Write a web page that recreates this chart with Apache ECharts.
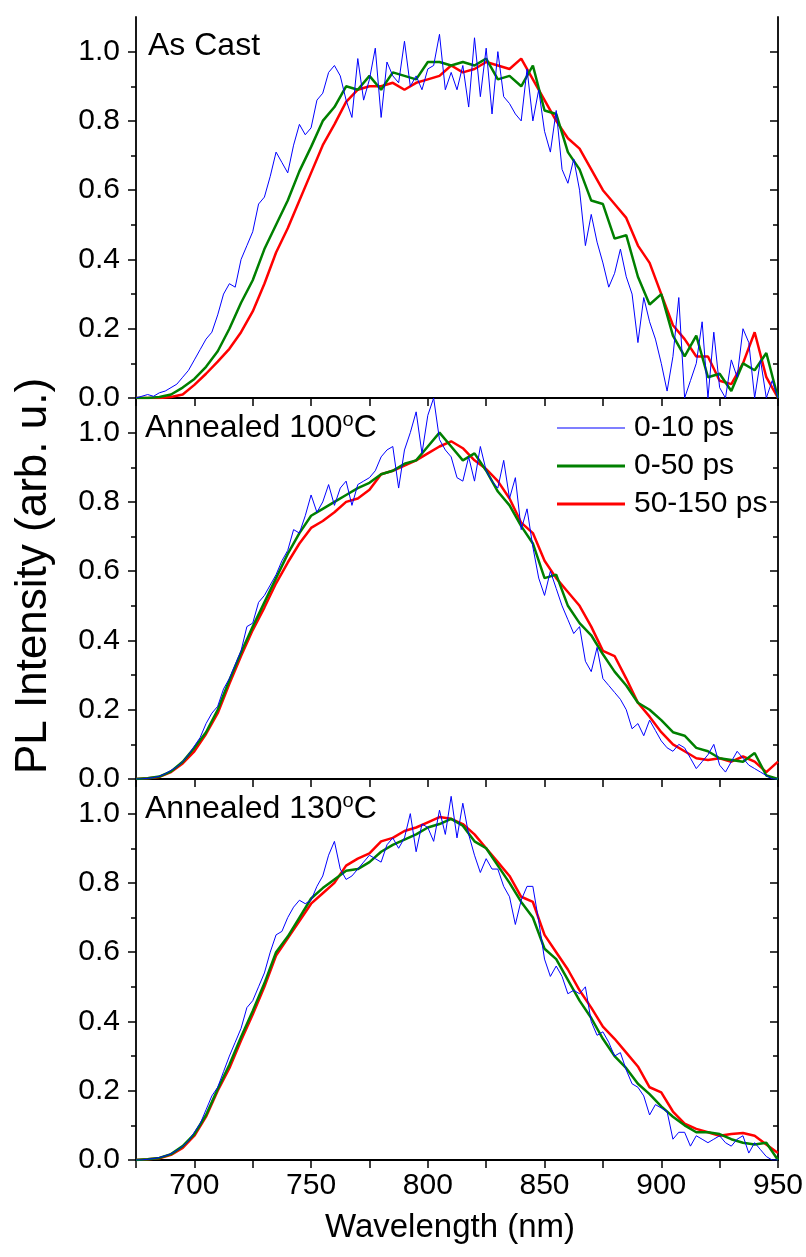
<!DOCTYPE html>
<html>
<head>
<meta charset="UTF-8">
<title>PL spectra</title>
<script src="https://cdn.jsdelivr.net/npm/echarts@6/dist/echarts.min.js"></script>
<style type="text/css">
  *{margin:0;padding:0;}
  body{background:#fff;}
  #main{width:806px;height:1257px;}
</style>
</head>
<body>
<div id="main"></div>
<script type="text/javascript">
// wavelength grids (nm)
var wl5 = [675,680,685,690,695,700,705,710,715,720,725,730,735,740,745,750,755,760,765,770,
  775,780,785,790,795,800,805,810,815,820,825,830,835,840,845,850,855,860,865,870,
  875,880,885,890,895,900,905,910,915,920,925,930,935,940,945,950];
var wl25 = [675,677.5,680,682.5,685,687.5,690,692.5,695,697.5,700,702.5,705,707.5,710,712.5,715,717.5,720,722.5,
  725,727.5,730,732.5,735,737.5,740,742.5,745,747.5,750,752.5,755,757.5,760,762.5,765,767.5,770,772.5,
  775,777.5,780,782.5,785,787.5,790,792.5,795,797.5,800,802.5,805,807.5,810,812.5,815,817.5,820,822.5,
  825,827.5,830,832.5,835,837.5,840,842.5,845,847.5,850,852.5,855,857.5,860,862.5,865,867.5,870,872.5,
  875,877.5,880,882.5,885,887.5,890,892.5,895,897.5,900,902.5,905,907.5,910,912.5,915,917.5,920,922.5,
  925,927.5,930,932.5,935,937.5,940,942.5,945,947.5,950];

var seriesNames = ['0-10 ps', '0-50 ps', '50-150 ps'];
var panelLabels = ['As Cast', 'Annealed 100', 'Annealed 130'];
var yTicks = [0, 0.2, 0.4, 0.6, 0.8, 1.0];
var yMinorTicks = [0.1, 0.3, 0.5, 0.7, 0.9];

// As Cast
var castBlue = [0,0.005,0.01,0.005,0.015,0.02,0.03,0.04,0.06,0.08,0.11,0.14,0.17,0.19,0.24,0.30,0.33,0.32,0.40,0.44,
  0.48,0.56,0.58,0.64,0.71,0.68,0.65,0.73,0.79,0.76,0.78,0.86,0.88,0.94,0.96,0.93,0.86,0.81,0.98,0.86,
  0.92,1.01,0.81,0.97,0.93,0.91,1.03,0.90,0.93,0.89,0.95,0.96,1.05,0.89,0.94,0.89,0.96,0.84,1.04,0.87,
  1.01,0.82,1.0,0.87,0.85,0.82,0.80,0.95,0.80,0.89,0.77,0.71,0.83,0.66,0.62,0.69,0.60,0.44,0.53,0.45,
  0.39,0.32,0.36,0.43,0.35,0.30,0.16,0.29,0.22,0.17,0.10,0.02,0.12,0.29,0,0.05,0.10,0.22,0,0.19,
  0.03,0,0.11,0.06,0.20,0.16,0,0.11,0,0.05,0];
var castGreen = [0,0,0.003,0.01,0.03,0.055,0.09,0.135,0.2,0.275,0.34,0.43,0.5,0.57,0.655,0.725,0.8,0.84,0.9,0.89,
  0.93,0.89,0.94,0.93,0.92,0.97,0.97,0.96,0.97,0.96,0.98,0.92,0.93,0.9,0.96,0.83,0.82,0.71,0.66,0.57,
  0.56,0.46,0.47,0.35,0.27,0.3,0.18,0.12,0.18,0.06,0.07,0.02,0.1,0.08,0.13,0];
var castRed = [0,0,0,0.003,0.01,0.038,0.07,0.105,0.142,0.19,0.25,0.33,0.42,0.49,0.57,0.65,0.73,0.79,0.855,0.89,
  0.9,0.9,0.91,0.89,0.91,0.92,0.93,0.96,0.94,0.95,0.97,0.96,0.95,0.98,0.92,0.86,0.8,0.75,0.72,0.66,
  0.6,0.56,0.52,0.44,0.39,0.3,0.21,0.17,0.12,0.12,0.05,0.04,0.1,0.19,0.06,0];

// Annealed 100 C
var a100Blue = [0,0,0.002,0.004,0.008,0.015,0.025,0.035,0.05,0.07,0.095,0.12,0.16,0.19,0.21,0.26,0.29,0.33,0.37,0.44,
  0.45,0.51,0.53,0.56,0.59,0.63,0.66,0.72,0.71,0.76,0.82,0.77,0.80,0.85,0.79,0.84,0.86,0.79,0.85,0.86,
  0.87,0.89,0.93,0.95,0.96,0.84,0.95,1.0,1.06,0.94,1.05,1.1,0.98,0.95,0.93,0.87,0.86,0.93,0.86,0.96,
  0.89,0.86,0.84,0.92,0.81,0.87,0.72,0.78,0.67,0.58,0.53,0.60,0.55,0.50,0.46,0.42,0.44,0.34,0.31,0.38,
  0.29,0.27,0.25,0.23,0.20,0.145,0.16,0.125,0.17,0.14,0.11,0.09,0.08,0.10,0.09,0.06,0.03,0.05,0.07,0.10,
  0.04,0.02,0.05,0.08,0.06,0.04,0.03,0.02,0.01,0,0];
var a100Green = [0,0.002,0.007,0.022,0.05,0.09,0.135,0.2,0.285,0.365,0.44,0.51,0.58,0.65,0.71,0.76,0.78,0.8,0.82,0.84,
  0.855,0.88,0.89,0.91,0.92,0.96,1.0,0.96,0.92,0.94,0.89,0.83,0.79,0.73,0.68,0.58,0.59,0.5,0.45,0.415,
  0.36,0.31,0.27,0.22,0.2,0.17,0.135,0.125,0.09,0.08,0.06,0.055,0.05,0.075,0.01,0];
var a100Red = [0,0.002,0.006,0.02,0.045,0.08,0.13,0.19,0.275,0.355,0.43,0.495,0.565,0.625,0.68,0.725,0.745,0.77,0.8,0.81,
  0.835,0.88,0.89,0.905,0.92,0.94,0.96,0.975,0.955,0.92,0.895,0.86,0.81,0.74,0.71,0.63,0.58,0.54,0.5,0.44,
  0.37,0.355,0.29,0.22,0.18,0.135,0.1,0.08,0.06,0.055,0.06,0.05,0.065,0.05,0.02,0.05];

// Annealed 130 C
var a130Blue = [0,0,0.002,0.004,0.007,0.012,0.018,0.028,0.04,0.055,0.08,0.105,0.145,0.185,0.21,0.255,0.3,0.34,0.38,0.44,
  0.46,0.5,0.54,0.6,0.65,0.66,0.7,0.73,0.75,0.74,0.75,0.79,0.82,0.88,0.92,0.84,0.81,0.82,0.84,0.86,
  0.88,0.87,0.86,0.91,0.93,0.9,0.93,1.0,0.89,0.97,0.96,0.92,1.01,0.94,1.05,0.93,1.03,0.94,0.88,0.83,
  0.87,0.84,0.84,0.79,0.76,0.68,0.75,0.79,0.79,0.69,0.58,0.53,0.56,0.53,0.48,0.49,0.48,0.50,0.40,0.36,
  0.37,0.34,0.30,0.31,0.26,0.22,0.21,0.185,0.13,0.16,0.15,0.14,0.06,0.08,0.08,0.04,0.07,0.06,0.05,0.06,
  0.07,0.05,0.04,0.06,0.07,0.02,0.05,0.03,0.01,0,0];
var a130Green = [0,0.002,0.006,0.017,0.04,0.075,0.13,0.205,0.275,0.355,0.43,0.51,0.6,0.645,0.7,0.755,0.785,0.81,0.835,0.84,
  0.86,0.89,0.91,0.925,0.94,0.96,0.97,0.985,0.965,0.92,0.9,0.85,0.8,0.745,0.7,0.61,0.58,0.52,0.46,0.41,
  0.35,0.3,0.265,0.22,0.19,0.155,0.125,0.1,0.08,0.08,0.075,0.06,0.05,0.045,0.05,0];
var a130Red = [0,0.002,0.005,0.015,0.035,0.07,0.125,0.2,0.265,0.345,0.42,0.5,0.59,0.64,0.69,0.74,0.77,0.8,0.85,0.87,
  0.885,0.92,0.93,0.95,0.96,0.975,0.99,0.985,0.97,0.94,0.9,0.86,0.82,0.76,0.745,0.65,0.6,0.55,0.49,0.44,
  0.385,0.35,0.31,0.27,0.21,0.195,0.14,0.105,0.09,0.08,0.07,0.075,0.078,0.07,0.045,0.02];

var panels = [
  {blue: castBlue, green: castGreen, red: castRed},
  {blue: a100Blue, green: a100Green, red: a100Red},
  {blue: a130Blue, green: a130Green, red: a130Red}
];

function pairs(xs, ys) {
  var out = [];
  for (var i = 0; i < xs.length; i++) out.push([xs[i], ys[i]]);
  return out;
}

var gridTops = [17, 398, 779];
var gridH = 381;
var black = '#000';
var fontFam = 'Liberation Sans, Arial, sans-serif';
var frameW = 1.8;

var grids = [], xAxes = [], yAxes = [], series = [];

for (var p = 0; p < 3; p++) {
  grids.push({left: 136, right: 28, top: gridTops[p], height: gridH});
  var last = (p === 2);
  // bottom x axis
  xAxes.push({
    type: 'value', gridIndex: p, position: 'bottom', min: 675, max: 950, interval: 25,
    axisLine: {lineStyle: {color: black, width: frameW}},
    axisTick: {inside: false, length: 8, lineStyle: {color: black, width: 1.5}},
    splitLine: {show: false},
    axisLabel: {
      show: last, margin: 11, color: black, fontSize: 30, fontFamily: fontFam,
      formatter: function (v) { return (v % 50 === 0) ? String(v) : ''; }
    }
  });
  // top x axis
  xAxes.push({
    type: 'value', gridIndex: p, position: 'top', min: 675, max: 950, interval: 25,
    axisLine: {lineStyle: {color: black, width: frameW}},
    axisTick: {inside: true, length: 8, lineStyle: {color: black, width: 1.5}},
    axisLabel: {show: false}, splitLine: {show: false}
  });
  // left y axis, major ticks + labels
  yAxes.push({
    type: 'value', gridIndex: p, position: 'left', min: 0, max: 1.1,
    axisLine: {show: true, lineStyle: {color: black, width: frameW}},
    axisTick: {show: true, inside: false, length: 8, customValues: yTicks, lineStyle: {color: black, width: 1.5}},
    axisLabel: {
      show: true, margin: 16, customValues: yTicks, color: black, fontSize: 30, fontFamily: fontFam,
      formatter: function (v) { return v.toFixed(1); }
    },
    splitLine: {show: false}
  });
  // left y axis, minor ticks
  yAxes.push({
    type: 'value', gridIndex: p, position: 'left', min: 0, max: 1.1,
    axisLine: {show: false},
    axisTick: {show: true, inside: false, length: 5, customValues: yMinorTicks, lineStyle: {color: black, width: 1.5}},
    axisLabel: {show: false}, splitLine: {show: false}
  });
  // right y axis, major
  yAxes.push({
    type: 'value', gridIndex: p, position: 'right', min: 0, max: 1.1,
    axisLine: {show: true, lineStyle: {color: black, width: frameW}},
    axisTick: {show: true, inside: true, length: 8, customValues: yTicks, lineStyle: {color: black, width: 1.5}},
    axisLabel: {show: false}, splitLine: {show: false}
  });
  // right y axis, minor
  yAxes.push({
    type: 'value', gridIndex: p, position: 'right', min: 0, max: 1.1,
    axisLine: {show: false},
    axisTick: {show: true, inside: true, length: 5, customValues: yMinorTicks, lineStyle: {color: black, width: 1.5}},
    axisLabel: {show: false}, splitLine: {show: false}
  });

  var d = panels[p];
  var common = {type: 'line', xAxisIndex: p * 2, yAxisIndex: p * 4, symbol: 'none', showSymbol: false,
    animation: false, clip: true};
  series.push(Object.assign({}, common, {name: seriesNames[2], data: pairs(wl5, d.red),
    lineStyle: {color: '#ff0000', width: 2.5}, itemStyle: {color: '#ff0000'}}));
  series.push(Object.assign({}, common, {name: seriesNames[1], data: pairs(wl5, d.green),
    lineStyle: {color: '#008000', width: 2.5}, itemStyle: {color: '#008000'}}));
  series.push(Object.assign({}, common, {name: seriesNames[0], data: pairs(wl25, d.blue),
    lineStyle: {color: '#0000ff', width: 1}, itemStyle: {color: '#0000ff'}}));
}

var labelRich = {
  m: {fontSize: 32, lineHeight: 36, color: black, fontFamily: fontFam},
  s: {fontSize: 20, lineHeight: 20, color: black, fontFamily: fontFam, verticalAlign: 'top'}
};

var graphics = [
  {type: 'text', left: 148, top: 30, style: {text: '{m|' + panelLabels[0] + '}', rich: labelRich}},
  {type: 'text', left: 145, top: 410, style: {text: '{m|' + panelLabels[1] + '}{s|o}{m|C}', rich: labelRich}},
  {type: 'text', left: 145, top: 791, style: {text: '{m|' + panelLabels[2] + '}{s|o}{m|C}', rich: labelRich}},
  {type: 'text', x: 34, y: 576, rotation: Math.PI / 2,
    style: {text: 'PL Intensity (arb. u.)', fontSize: 44, fontFamily: fontFam, fill: black,
      align: 'center', verticalAlign: 'middle'}},
  {type: 'text', x: 450, y: 1228,
    style: {text: 'Wavelength (nm)', fontSize: 33, fontFamily: fontFam, fill: black,
      align: 'center', verticalAlign: 'middle'}}
];

var option = {
  backgroundColor: '#fff',
  animation: false,
  grid: grids,
  xAxis: xAxes,
  yAxis: yAxes,
  legend: {
    data: [
      {name: seriesNames[0], icon: 'path://M0,0H68V1.2H0Z'},
      {name: seriesNames[1], icon: 'path://M0,0H68V2.8H0Z'},
      {name: seriesNames[2], icon: 'path://M0,0H68V2.8H0Z'}
    ],
    orient: 'vertical', left: 557, top: 413, padding: 0,
    itemWidth: 68, itemHeight: 30, itemGap: 8,
    textStyle: {fontSize: 30, lineHeight: 30, color: black, fontFamily: fontFam, padding: [0, 0, 0, 4]},
    inactiveColor: '#ccc'
  },
  graphic: graphics,
  series: series
};

var myChart = echarts.init(document.getElementById('main'));
myChart.setOption(option);
</script>
</body>
</html>
